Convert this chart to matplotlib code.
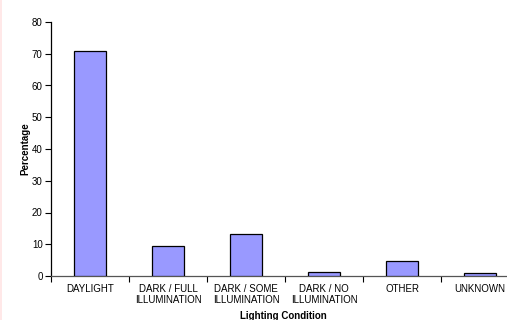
import matplotlib
matplotlib.use("Agg")
import matplotlib.pyplot as plt
from matplotlib.lines import Line2D
import numpy as np

categories = ["DAYLIGHT", "DARK / FULL\nILLUMINATION", "DARK / SOME\nILLUMINATION",
              "DARK / NO\nILLUMINATION", "OTHER", "UNKNOWN"]
percentages = [70.8, 9.3, 13.3, 1.3, 4.8, 0.9]
y_ticks = [0, 10, 20, 30, 40, 50, 60, 70, 80]

plt.rcParams["font.family"] = ["Liberation Sans", "DejaVu Sans"]

W, H = 507, 320
fig = plt.figure(figsize=(W / 100, H / 100), dpi=100)
fig.patch.set_facecolor("white")

# plot area in pixels: x from 51 to 519 (runs past the right edge), y from 22 to 276
left, right, top, bottom = 51, 519, 22, 276
ax = fig.add_axes([left / W, 1 - bottom / H, (right - left) / W, (bottom - top) / H])

x = np.arange(len(categories))
ax.bar(x, percentages, width=0.41, color="#9999FF", edgecolor="black", linewidth=0.9, zorder=3)

ax.set_xlim(-0.5, len(categories) - 0.5)
ax.set_ylim(0, 80)
ax.set_yticks(y_ticks)
ax.set_yticklabels([str(v) for v in y_ticks], fontsize=7)

# boundary ticks between categories, labels centred under bars
ax.set_xticks(np.arange(-0.5, len(categories), 1.0))
ax.set_xticklabels([])
ax.set_xticks(x, minor=True)
ax.set_xticklabels(categories, minor=True, fontsize=7, linespacing=1.05)
ax.tick_params(axis="x", which="minor", length=0, pad=6)
ax.tick_params(axis="x", which="major", length=4, width=0.8, direction="out", color="black")
ax.tick_params(axis="y", length=4, width=0.8, direction="out", pad=2, color="black")

for side in ("top", "right"):
    ax.spines[side].set_visible(False)
ax.spines["left"].set_color("black")
ax.spines["left"].set_linewidth(0.9)
ax.spines["bottom"].set_color("#555555")
ax.spines["bottom"].set_linewidth(0.9)

fig.text(25 / W, 1 - 149 / H, "Percentage", rotation=90, fontsize=7, fontweight="bold",
         ha="center", va="center")
fig.text(283 / W, 1 - 316 / H, "Lighting Condition", fontsize=7, fontweight="bold",
         ha="center", va="center")

# faint border at the left edge
fig.add_artist(Line2D([0.6 / W, 0.6 / W], [0, 1], color="#FFE4E4", linewidth=1.2,
                      transform=fig.transFigure))

fig.savefig("out.png", dpi=100)
